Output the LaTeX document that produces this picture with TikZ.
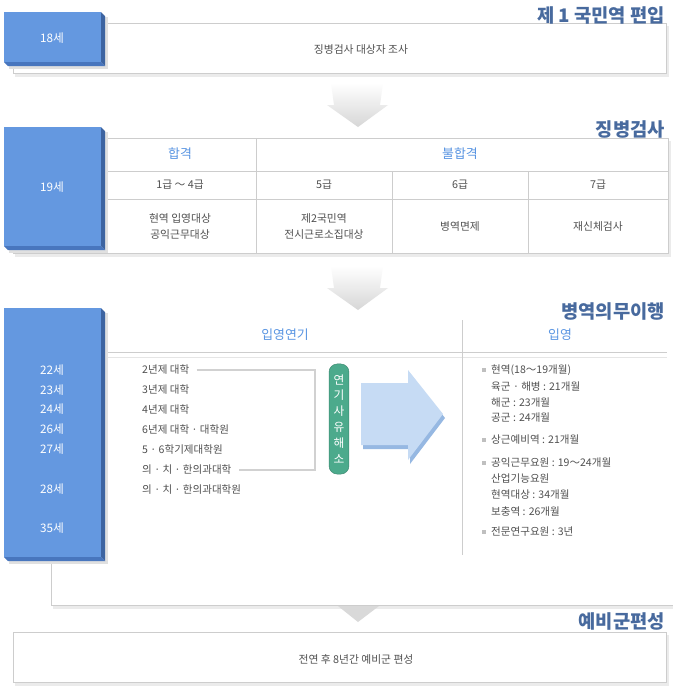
\documentclass[tikz,border=0pt]{standalone}
\usepackage{fontspec}
\setmainfont{Noto Sans CJK KR}
\definecolor{tabBlue}{RGB}{100,152,224}
\definecolor{tabDark}{RGB}{72,118,190}
\definecolor{headBlue}{RGB}{72,106,158}
\definecolor{subBlue}{RGB}{88,148,226}
\definecolor{txtGray}{RGB}{80,80,80}
\definecolor{lineGray}{RGB}{205,205,205}
\definecolor{pillGreen}{RGB}{76,170,140}
\definecolor{arrBlue}{RGB}{198,219,244}
\definecolor{arrDark}{RGB}{150,184,226}

\tikzstyle{hS}=[anchor=east, inner sep=0pt, font=\fontsize{16}{18}\selectfont\bfseries, text=headBlue]
\tikzstyle{sS}=[inner sep=0pt, font=\fontsize{11}{13}\selectfont, text=subBlue]
\tikzstyle{tS}=[inner sep=0pt, font=\fontsize{9.2}{13.6}\selectfont, text=txtGray, align=center]
\tikzstyle{lS}=[anchor=west, inner sep=0pt, font=\fontsize{9}{10}\selectfont, text=txtGray]
\tikzstyle{aS}=[inner sep=0pt, font=\fontsize{10}{12}\selectfont, text=white]
\tikzstyle{pS}=[rounded corners=7pt, fill=pillGreen, draw=pillGreen!80!black, text=white, minimum width=17pt, minimum height=94pt, inner sep=0pt, align=center, font=\fontsize{10}{13.6}\selectfont]
\tikzstyle{bltS}=[fill=black!25, minimum size=3.6pt, inner sep=0pt]
\tikzstyle{bS}=[draw=lineGray, fill=white]
\tikzstyle{gS}=[draw=lineGray, line width=0.6pt]
\tikzstyle{brS}=[draw=black!18, line width=1.6pt]

\begin{document}
\begin{tikzpicture}[x=0.03cm, y=-0.03cm]
    \useasboundingbox (0,0) rectangle (673,690);
    \fill[white] (0,0) rectangle (673,690);
    % boxes
    \fill[black!8] (15,26) rectangle (669,77);
    \draw[bS] (13,23) rectangle (666,73);
    \fill[black!8] (15,141) rectangle (671,257);
    \draw[bS] (13,138) rectangle (668,253);
    \draw[gS] (104,171) -- (668,171) (104,199) -- (668,199) (256,138) -- (256,253)
        (392,171) -- (392,253) (528,171) -- (528,253);
    \fill[black!8] (53,605) rectangle (673,609);
    \draw[gS] (51,557) -- (51,605) -- (673,605);
    \draw[gS] (104,352) -- (667,352);
    \draw[gS, draw=black!10] (104,357) -- (667,357);
    \draw[gS] (462,320) -- (462,555);
    \fill[black!8] (15,635) rectangle (669,686);
    \draw[bS] (13,632) rectangle (666,682);
    % grey arrows
    \foreach \ay in {83,266}
        \shade[top color=white, bottom color=black!16] (331,\ay) -- (383,\ay) -- (380,\ay+22) -- (388,\ay+22)
            -- (358,\ay+44) -- (327,\ay+22) -- (334,\ay+22) -- cycle;
    \fill[black!15] (338,606) -- (379,606) -- (358,622) -- cycle;
    % age tabs
    \foreach \ta/\tb in {12/62,127/246,308/557}{
        \fill[black!12] (9,\ta+5) rectangle (108,\tb+7);
        \fill[tabDark!85!black] (101,\ta) -- (105,\ta+4) -- (105,\tb+4) -- (101,\tb) -- cycle;
        \fill[tabDark] (4,\tb) -- (101,\tb) -- (105,\tb+4) -- (8,\tb+4) -- cycle;
        \fill[tabBlue] (4,\ta) rectangle (101,\tb);
    }
    \draw (52,38) node[aS] (a18) {18세};
    \draw (52,187) node[aS] (a19) {19세};
    \foreach \y/\a in {370/22,390/23,409/24,429/26,449/27,489/28,528/35}
        \draw (52,\y) node[aS] (a\a) {{\a}세};
    % headings
    \draw (665,15) node[hS] (h1) {제 1 국민역 편입};
    \draw (665,129) node[hS] (h2) {징병검사};
    \draw (665,311) node[hS] (h3) {병역의무이행};
    \draw (665,621) node[hS] (h4) {예비군편성};
    \draw (361,49) node[tS] (list18) {징병검사 대상자 조사};
    \draw (356,659) node[tS] (reserve) {전연 후 8년간 예비군 편성};
    % exam table
    \draw (180,154) node[sS] (pass) {합격};
    \draw (460,154) node[sS] (fail) {불합격};
    \draw (180,185) node[tS] (g14) {1급 ～ 4급};
    \draw (324,185) node[tS] (g5) {5급};
    \draw (460,185) node[tS] (g6) {6급};
    \draw (598,185) node[tS] (g7) {7급};
    \draw (180,226) node[tS] (r14) {현역 입영대상\\공익근무대상};
    \draw (324,226) node[tS] (r5) {제2국민역\\전시근로소집대상};
    \draw (460,226) node[tS] (r6) {병역면제};
    \draw (598,226) node[tS] (r7) {재신체검사};
    % service
    \draw (285,335) node[sS] (delayH) {입영연기};
    \draw (560,335) node[sS] (enlistH) {입영};
    \foreach \t [count=\i] in {2년제 대학, 3년제 대학, 4년제 대학, 6년제 대학 · 대학원,
        5 · 6학기제대학원, 의 · 치 · 한의과대학, 의 · 치 · 한의과대학원}
        \draw (142,350+20*\i) node[lS] (du\i) {\t};
    \coordinate (brkT) at (315,370);
    \coordinate (brkB) at (315,470);
    \draw[brS] ([xshift=6pt]du1.east) -- (brkT) -- (brkB) -- ([xshift=6pt]du6.east);
    \draw (339,419) node[pS] (delay) {연\\기\\사\\유\\해\\소};
    \fill[arrDark, shift={(2,4)}] (361,383) -- (408,383) -- (408,370) -- (443,414) -- (408,460) -- (408,445) -- (361,445) -- cycle;
    \fill[arrBlue] (361,383) -- (408,383) -- (408,370) -- (443,414) -- (408,460) -- (408,445) -- (361,445) -- cycle;
    \foreach \y in {370,440,463,532}
        \draw (484,\y) node[bltS] (bl\y) {};
    \foreach \y/\t [count=\i] in {370/현역(18～19개월), 387/육군 · 해병 : 21개월, 403/해군 : 23개월,
        418/공군 : 24개월, 440/상근예비역 : 21개월, 463/공익근무요원 : 19～24개월, 479/산업기능요원,
        495/현역대상 : 34개월, 512/보충역 : 26개월, 532/전문연구요원 : 3년}
        \draw (491,\y) node[lS] (sv\i) {\t};
\end{tikzpicture}
\end{document}
